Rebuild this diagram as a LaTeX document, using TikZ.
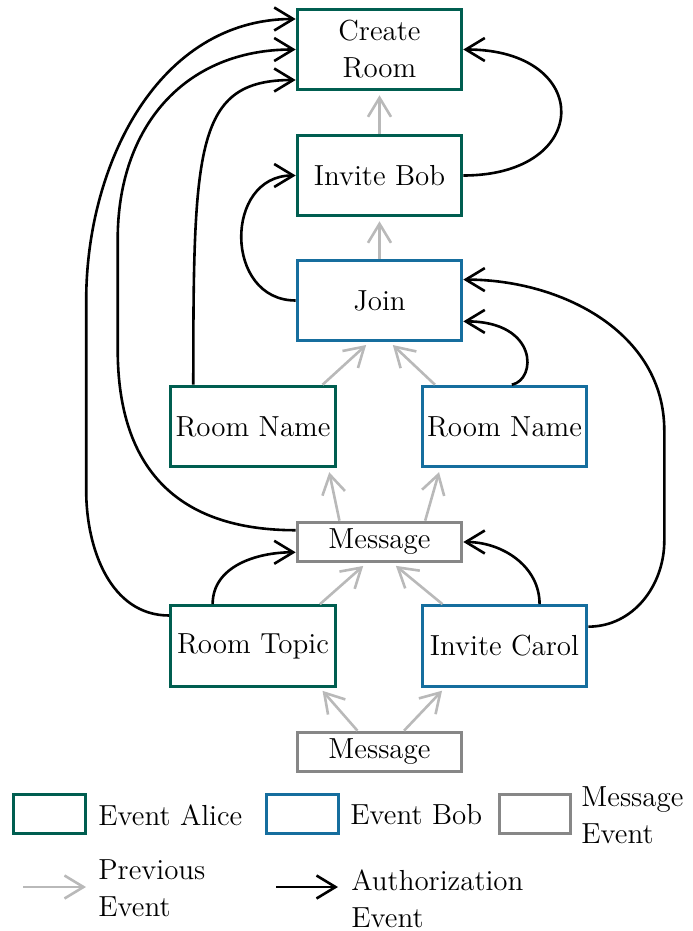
\documentclass[tikz,border=0pt]{standalone}
\usepackage{amsmath, amssymb}
\usepackage{tikz}
\usetikzlibrary{arrows.meta}

\definecolor{alicegreen}{RGB}{0, 94, 80}
\definecolor{bobblue}{RGB}{22, 110, 158}
\definecolor{msggray}{RGB}{135, 135, 135}
\definecolor{prevgray}{RGB}{185, 185, 185}

\begin{document}
\begin{tikzpicture}[x = 0.5pt, y = -0.5pt,
    font = \fontsize{14.5}{18.5}\selectfont,
    >= {Straight Barb[length = 9.5pt, width = 11.5pt]},
    event/.style = {draw, line width = 1.5pt, fill = white, align = center, inner sep = 0,
      minimum width = 82.3pt, minimum height = 40.3pt},
    alice/.style = {event, draw = alicegreen},
    bob/.style = {event, draw = bobblue},
    msgbox/.style = {event, draw = msggray, minimum height = 19.8pt},
    keybox/.style = {minimum width = 35.8pt, minimum height = 19.8pt},
    lbl/.style = {anchor = west, align = left, inner sep = 0},
    prev/.style = {->, prevgray, line width = 1.3pt, shorten > = 2pt},
    auth/.style = {->, black, line width = 1.3pt}]
    \useasboundingbox (0, 0) rectangle (692, 931);

    % events
    \node [alice] (cr) at (379.5, 49.5) {Create\\Room};
    \node [alice] (ib) at (379.5, 175.5) {Invite Bob};
    \node [bob] (jn) at (379.5, 300.5) {Join};
    \node [alice] (rnA) at (253, 426.5) {Room Name};
    \node [bob] (rnB) at (504.5, 426.5) {Room Name};
    \node [msgbox] (msgA) at (379.5, 542) {Message};
    \node [alice] (rt) at (253, 646) {Room Topic};
    \node [bob] (ic) at (504.5, 646) {Invite Carol};
    \node [msgbox] (msgB) at (379.5, 752) {Message};

    % previous events
    \draw [prev] (ib) -- (cr);
    \draw [prev] (jn) -- (ib);
    \draw [prev] (rnA.31) -- (jn.256);
    \draw [prev] (rnB.149) -- (jn.284);
    \draw [prev] (msgA.152) -- (rnA.331);
    \draw [prev] (msgA.25) -- (rnB.213);
    \draw [prev] (rt.32) -- (msgA.238);
    \draw [prev] (ic.146) -- (msgA.302);
    \draw [prev] (msgB.136) -- (rt.328);
    \draw [prev] (msgB.41) -- (ic.215);

    % authorization events
    \draw [auth] (ib.east) .. controls +(130, 0) and +(130, 0) .. (cr.east);
    \draw [auth] (jn.west) .. controls +(-72, 0) and +(-72, 0) .. (ib.west);
    \draw [auth] (rnA.145) .. controls +(0, -240) and +(-100, 0) .. (cr.200);
    \draw [auth] (msgA.172) to [out = 180, in = -90, looseness = 1.2] ++(-178, -181)
      -- ++(0, -110) to [out = 90, in = 180, looseness = 1.1] (cr.west);
    \draw [auth] (rt.160) to [out = 180, in = -90] ++(-83, -125)
      -- ++(0, -190) to [out = 90, in = 180] (cr.160);
    \draw [auth] (ic.13) to [out = 0, in = -90] ++(76, -86)
      -- ++(0, -110) to [out = 90, in = 0] (jn.14);
    \draw [auth] (rnB.80) .. controls +(25, -5) and +(75, 0) .. (jn.-14);
    \draw [auth] (rt.134) to [out = 90, in = 180] (msgA.187);
    \draw [auth] (ic.50) to [out = 90, in = 0] (msgA.east);

    % legend
    \node [alice, keybox] (keyA) at (49.5, 814) {};
    \node [lbl] (txtA) at (98, 815) {Event Alice};
    \node [bob, keybox] (keyB) at (302.5, 814) {};
    \node [lbl] (txtB) at (350, 815) {Event Bob};
    \node [msgbox, keybox] (keyM) at (535, 814) {};
    \node [lbl] (txtM) at (581, 815) {Message\\Event};

    \coordinate (prevA) at (23, 887);
    \coordinate (prevB) at (86, 887);
    \draw [prev, shorten > = 0] (prevA) -- (prevB);
    \node [lbl] (txtP) at (98, 888) {Previous\\Event};

    \coordinate (authA) at (276, 887);
    \coordinate (authB) at (338, 887);
    \draw [auth] (authA) -- (authB);
    \node [lbl] (txtQ) at (351, 898.5) {Authorization\\Event};
  \end{tikzpicture}
\end{document}
